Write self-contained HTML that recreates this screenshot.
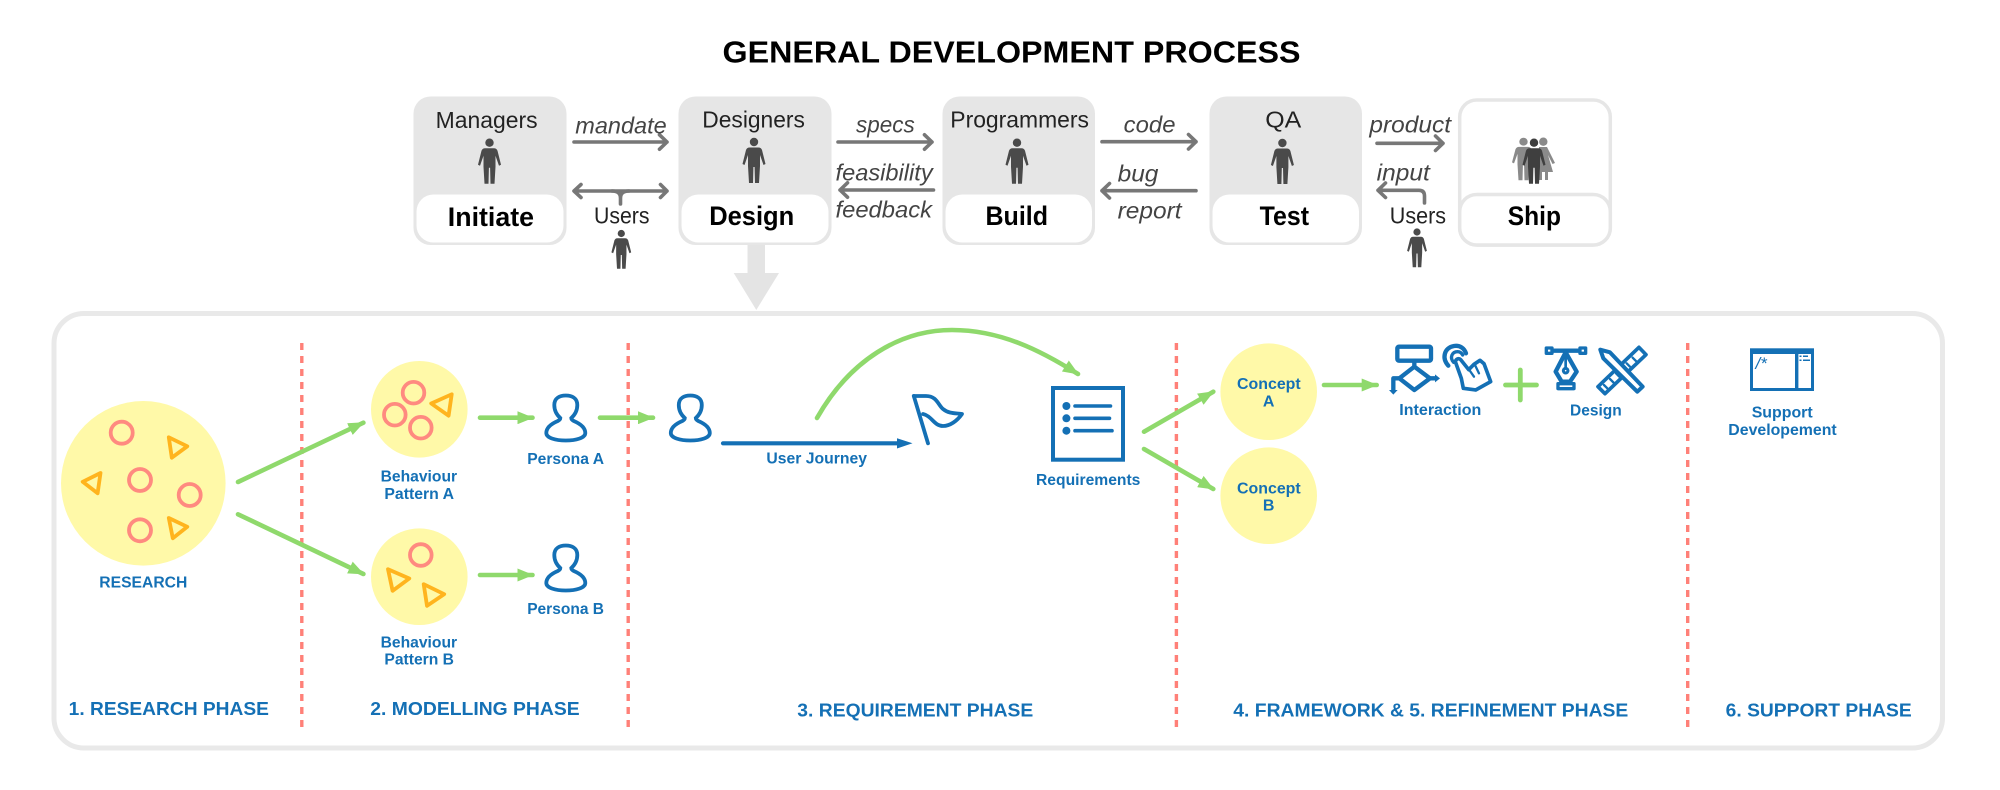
<!DOCTYPE html>
<html>
<head>
<meta charset="utf-8">
<style>
html,body{margin:0;padding:0;background:#fff;width:2000px;height:790px;overflow:hidden}
svg{display:block;filter:blur(.35px)}
text{font-family:"Liberation Sans",sans-serif}
.t{fill:#222;font-size:23px}
.i{fill:#444;font-size:23px;font-style:italic}
.b{fill:#000;font-size:27px;font-weight:bold}
.l{fill:#1470b5;font-size:16px;font-weight:bold}
.p{fill:#1470b5;font-size:18.5px;font-weight:bold}
.ga{fill:none;stroke:#777;stroke-width:3.6;stroke-linecap:round;stroke-linejoin:round}
.gr{fill:none;stroke:#8fd96c;stroke-width:4.6;stroke-linecap:round}
.dash{stroke:#ff8078;stroke-width:3.4;stroke-dasharray:7 6}
.o{fill:none;stroke:#ff8a80;stroke-width:3.8}
.y{fill:none;stroke:#ffb41e;stroke-width:3.8;stroke-linejoin:round}
.ic{fill:none;stroke:#1470b5;stroke-linejoin:round;stroke-linecap:round}
</style>
</head>
<body>
<svg width="2000" height="790" viewBox="0 0 2000 790" xmlns="http://www.w3.org/2000/svg">
<defs>
<marker id="gh" markerUnits="userSpaceOnUse" viewBox="0 0 16 13" refX="15" refY="6.5" markerWidth="16" markerHeight="13" orient="auto"><path d="M0 0L16 6.5L0 13Z" fill="#8fd96c"/></marker>
<g id="pn"><circle cx="0" cy="0" r="4.2"/><path d="M-4.5 5.5H4.5Q7 5.5 8 8L11.5 22L9.5 23L6 13V24L5 41H1L.6 25H-.6L-1 41H-5L-6 24V13L-9.5 23L-11.5 22L-8 8Q-7 5.5-4.5 5.5Z"/></g>
<path id="pa" d="M-5.5 24C-10 20-11.5 16-11.5 11C-11.5 4-6 1.5 0 1.5C6 1.5 11.5 4 11.5 11C11.5 16 10 20 5.5 24C5.5 25 6 26 8 27C15 30 19.5 34 19.5 39C19.5 44 10 46.5 0 46.5C-10 46.5-19.5 44-19.5 39C-19.5 34-15 30-8 27C-6 26-5.5 25-5.5 24Z" fill="none" stroke="#1470b5" stroke-width="3.8"/>
</defs>

<text x="722.5" y="62.5" textLength="578" lengthAdjust="spacingAndGlyphs" font-size="31" font-weight="bold" fill="#000">GENERAL DEVELOPMENT PROCESS</text>

<!-- boxes -->
<rect x="413.5" y="96.5" width="153" height="148.5" rx="17" fill="#e6e6e6"/>
<rect x="416.5" y="194.5" width="147" height="48" rx="17" fill="#fff"/>
<rect x="678.5" y="96.5" width="153" height="148.5" rx="17" fill="#e6e6e6"/>
<rect x="681.5" y="194.5" width="147" height="48" rx="17" fill="#fff"/>
<rect x="942.5" y="96.5" width="152.5" height="148.5" rx="17" fill="#e6e6e6"/>
<rect x="945.5" y="194.5" width="146.5" height="48" rx="17" fill="#fff"/>
<rect x="1209.5" y="96.5" width="152.5" height="148.5" rx="17" fill="#e6e6e6"/>
<rect x="1212.5" y="194.5" width="146.5" height="48" rx="17" fill="#fff"/>
<rect x="1459.7" y="100" width="150.6" height="145" rx="17" fill="#fff" stroke="#e6e6e6" stroke-width="3.5"/>
<rect x="1459.7" y="194.5" width="150.6" height="50.5" rx="17" fill="#fff" stroke="#e6e6e6" stroke-width="3.5"/>

<!-- big arrow -->
<path d="M747.5 245H765V273H779L756.3 310L733.7 273H747.5Z" fill="#e4e4e4"/>

<!-- box text -->
<text class="t" x="435.6" y="128" textLength="102" lengthAdjust="spacingAndGlyphs">Managers</text>
<text class="t" x="702.3" y="127.7" textLength="102.6" lengthAdjust="spacingAndGlyphs">Designers</text>
<text class="t" x="950.3" y="127.7" textLength="138.7" lengthAdjust="spacingAndGlyphs">Programmers</text>
<text class="t" x="1265.3" y="127.7" textLength="36" lengthAdjust="spacingAndGlyphs">QA</text>
<text class="b" x="447.8" y="226" textLength="86.2" lengthAdjust="spacingAndGlyphs">Initiate</text>
<text class="b" x="709.2" y="225" textLength="85" lengthAdjust="spacingAndGlyphs">Design</text>
<text class="b" x="985.5" y="225" textLength="62.5" lengthAdjust="spacingAndGlyphs">Build</text>
<text class="b" x="1259.6" y="225" textLength="49.4" lengthAdjust="spacingAndGlyphs">Test</text>
<text class="b" x="1507.8" y="225" textLength="53.2" lengthAdjust="spacingAndGlyphs">Ship</text>

<!-- people -->
<g fill="#4a4a4a">
<use href="#pn" transform="translate(489.5 142.7)"/>
<use href="#pn" transform="translate(754 142)"/>
<use href="#pn" transform="translate(1017 142.7)"/>
<use href="#pn" transform="translate(1282.4 143)"/>
<use href="#pn" transform="translate(621.3 233.5) scale(.86)"/>
<use href="#pn" transform="translate(1417 232) scale(.86)"/>
</g>
<g fill="#8a8a8a">
<use href="#pn" transform="translate(1523.5 141.7) scale(1 .94)"/>
<circle cx="1543.3" cy="141.7" r="4.2"/>
<path d="M1539 147H1547L1555 163L1552.5 164L1548 155L1553 172H1548V180H1545V172H1542V180H1539Z"/>
</g>
<g fill="#3f3f3f"><use href="#pn" transform="translate(1534 142.7)"/></g>

<!-- grey arrows -->
<g class="ga">
<path d="M574 142H667M659.5 134.8L667 142L659.5 149.2"/>
<path d="M574.5 191H667M581 184.5L574 191L581 197.5M660.5 184.5L667 191L660.5 197.5"/>
<path d="M620.5 204V198Q620.5 191 612 191M620.5 198Q620.5 191 629 191"/>
<path d="M838 142H932M924.5 134.8L932 142L924.5 149.2"/>
<path d="M933.5 190H840M847.5 182.8L840 190L847.5 197.2"/>
<path d="M1102 141.7H1196M1188.5 134.5L1196 141.7L1188.5 149"/>
<path d="M1196 190.7H1102M1109.5 183.5L1102 190.7L1109.5 198"/>
<path d="M1377 143.3H1443M1435.5 136L1443 143.3L1435.5 150.5"/>
<path d="M1378 190.3H1419Q1424.5 190.3 1424.5 196V203M1385.5 183L1378 190.3L1385.5 197.5"/>
</g>

<text class="i" x="575.3" y="133.3" textLength="91.4" lengthAdjust="spacingAndGlyphs">mandate</text>
<text class="t" x="594" y="223.3" textLength="55.5" lengthAdjust="spacingAndGlyphs">Users</text>
<text class="i" x="856" y="132.7" textLength="58.7" lengthAdjust="spacingAndGlyphs">specs</text>
<text class="i" x="835.5" y="180.7" textLength="97.2" lengthAdjust="spacingAndGlyphs">feasibility</text>
<text class="i" x="835.5" y="217.7" textLength="96.5" lengthAdjust="spacingAndGlyphs">feedback</text>
<text class="i" x="1123.7" y="132.7" textLength="51.8" lengthAdjust="spacingAndGlyphs">code</text>
<text class="i" x="1117.6" y="181.7" textLength="40.8" lengthAdjust="spacingAndGlyphs">bug</text>
<text class="i" x="1117.6" y="218.7" textLength="64" lengthAdjust="spacingAndGlyphs">report</text>
<text class="i" x="1369.4" y="132.7" textLength="81.6" lengthAdjust="spacingAndGlyphs">product</text>
<text class="i" x="1376.7" y="180.7" textLength="53.1" lengthAdjust="spacingAndGlyphs">input</text>
<text class="t" x="1389.8" y="223.3" textLength="56.2" lengthAdjust="spacingAndGlyphs">Users</text>

<!-- panel -->
<rect x="54" y="313.5" width="1888.5" height="434.5" rx="30" fill="#fff" stroke="#e9e9e9" stroke-width="5"/>

<!-- dashes -->
<line class="dash" x1="301.8" y1="343" x2="301.8" y2="731"/>
<line class="dash" x1="628.2" y1="343" x2="628.2" y2="731"/>
<line class="dash" x1="1176.4" y1="343" x2="1176.4" y2="731"/>
<line class="dash" x1="1687.7" y1="343" x2="1687.7" y2="731"/>

<!-- yellow circles -->
<g fill="#fff9a8">
<circle cx="143.3" cy="483.3" r="82.3"/>
<circle cx="419.3" cy="409.3" r="48.3"/>
<circle cx="419.3" cy="576.7" r="48.3"/>
<circle cx="1268.7" cy="391.7" r="48.3"/>
<circle cx="1268.7" cy="495.7" r="48.3"/>
</g>
<g class="o">
<circle cx="121.7" cy="432.7" r="11"/>
<circle cx="140" cy="480" r="11"/>
<circle cx="189.7" cy="495" r="11"/>
<circle cx="140" cy="530.3" r="11"/>
<circle cx="413.5" cy="392.7" r="10.8"/>
<circle cx="394.8" cy="414.7" r="10.8"/>
<circle cx="420.8" cy="427.7" r="10.8"/>
<circle cx="420.8" cy="555" r="10.8"/>
</g>
<g class="y">
<path d="M168.8 437.3L187.3 446.3L171.8 457.7Z"/>
<path d="M100.5 473L82.7 481.8L97.6 493.3Z"/>
<path d="M168.8 518L187.3 526.8L172.8 538.2Z"/>
<path d="M451.7 394.3L431.2 403.5L448.6 415.7Z"/>
<path d="M388 569.2L409.3 578.5L392.6 590.8Z"/>
<path d="M423.7 584.2L444.2 594.2L427 605.8Z"/>
</g>

<!-- green arrows -->
<g class="gr">
<path d="M238 482L363.4 422.7" marker-end="url(#gh)"/>
<path d="M238 514.3L363.4 574" marker-end="url(#gh)"/>
<path d="M480 417.7H532.5" marker-end="url(#gh)"/>
<path d="M480 575H532.5" marker-end="url(#gh)"/>
<path d="M600 417.7H653" marker-end="url(#gh)"/>
<path d="M817 418C850 360 900 330 952 330C1000 330 1040 350 1078 374" marker-end="url(#gh)"/>
<path d="M1144 431.7L1213.3 391.7" marker-end="url(#gh)"/>
<path d="M1144 449L1213.3 489" marker-end="url(#gh)"/>
<path d="M1324 385H1376.7" marker-end="url(#gh)"/>
<path d="M1505.5 385H1536.5M1520.3 370V400" stroke-width="4.8"/>
</g>

<!-- personas -->
<use href="#pa" transform="translate(565.8 394)"/>
<use href="#pa" transform="translate(565.8 544)"/>
<use href="#pa" transform="translate(690.3 394)"/>

<!-- user journey -->
<path d="M723 443.3H900" stroke="#1470b5" stroke-width="4.2" stroke-linecap="round" fill="none"/>
<path d="M897 438.3L912.5 443.3L897 448.5Z" fill="#1470b5"/>
<g class="ic" stroke-width="3.8">
<path d="M913.8 396L928 443.3"/>
<path d="M913.8 396H926C937 396 938 405 943 409C949 414 956 413 962 414C957 421 950 426 943 426C934 426 932 416 923 414"/>
</g>

<!-- requirements -->
<rect x="1053" y="388" width="70" height="71.7" fill="none" stroke="#1470b5" stroke-width="4"/>
<g fill="#1470b5">
<circle cx="1066.4" cy="406" r="4"/>
<circle cx="1066.4" cy="418.3" r="4"/>
<circle cx="1066.4" cy="430.7" r="4"/>
</g>
<g class="ic" stroke-width="3.6">
<path d="M1075 406H1110.5M1075 418.3H1109.5M1075 430.7H1112"/>
</g>

<!-- interaction + design icons -->
<g transform="translate(1380 335) scale(.3333)">
<g class="ic" stroke-width="13">
<rect x="52" y="35" width="101" height="42" rx="5"/>
<path d="M103 78V95"/>
<path d="M103 95L150 130L103 165L58 130Z"/>
<path d="M150 130H168"/>
<path d="M58 130H40V165"/>
<path d="M205 92C185 70 192 38 222 33C240 30 253 40 258 55" stroke-width="13"/>
<path d="M221 82C208 68 216 50 233 50C240 50 245 54 248 60" stroke-width="10"/>
<path d="M226 80C228 72 236 68 242 74L266 104L282 88L300 76L312 86L332 140L287 165L250 160L244 130Z" stroke-width="11"/>
<path d="M268 105L282 125M285 90L297 115" stroke-width="7"/>
<!-- pen tool -->
<path d="M518 47H598"/>
<rect x="499" y="39" width="17" height="16" stroke-width="10"/>
<rect x="600" y="39" width="17" height="16" stroke-width="10"/>
<path d="M557 52L527 110L545 140H570L590 110Z"/>
<path d="M557 52V98" stroke-width="8"/>
<circle cx="557" cy="107" r="7" stroke-width="9"/>
<rect x="534" y="146" width="48" height="15" stroke-width="10"/>
<!-- ruler + pencil -->
<path d="M654 155L777 37L798 59L675 176Z" stroke-width="11"/>
<path d="M672 150L682 160M690 132L702 144M708 115L718 125M740 85L750 95M758 68L770 80" stroke-width="7"/>
<path d="M661 44L690 52L788 155L772 170L670 70Z" fill="#fff" stroke-width="12"/>
</g>
<path d="M165 118L180 130L165 142Z" fill="#1470b5"/>
<path d="M27 165H53L40 179Z" fill="#1470b5"/>
</g>

<!-- support icon -->
<rect x="1751.5" y="351" width="61" height="38.5" fill="none" stroke="#1470b5" stroke-width="3"/>
<rect x="1750" y="348.3" width="64" height="5.7" fill="#1470b5"/>
<rect x="1795" y="350" width="3.4" height="40" fill="#1470b5"/>
<path d="M1799.5 355.5H1801.5V357H1799.5ZM1799.5 359.5H1801.5V361H1799.5ZM1803 355.5H1808V357H1803ZM1803 359.5H1810V361H1803Z" fill="#1470b5"/>
<text x="1755.5" y="369" font-size="17" font-style="italic" fill="#1470b5">/*</text>

<!-- blue labels -->
<text class="l" x="99.3" y="587.7" textLength="88" lengthAdjust="spacingAndGlyphs">RESEARCH</text>
<text class="l" x="380.6" y="481.7" textLength="76.5" lengthAdjust="spacingAndGlyphs">Behaviour</text>
<text class="l" x="384.4" y="499" textLength="69.6" lengthAdjust="spacingAndGlyphs">Pattern A</text>
<text class="l" x="380.6" y="647.3" textLength="76.5" lengthAdjust="spacingAndGlyphs">Behaviour</text>
<text class="l" x="384.4" y="664.7" textLength="69.6" lengthAdjust="spacingAndGlyphs">Pattern B</text>
<text class="l" x="527.2" y="464" textLength="76.8" lengthAdjust="spacingAndGlyphs">Persona A</text>
<text class="l" x="527.2" y="614" textLength="76.8" lengthAdjust="spacingAndGlyphs">Persona B</text>
<text class="l" x="766.4" y="463.3" textLength="100.6" lengthAdjust="spacingAndGlyphs">User Journey</text>
<text class="l" x="1036" y="485" textLength="104.4" lengthAdjust="spacingAndGlyphs">Requirements</text>
<text class="l" x="1237" y="389" textLength="63.7" lengthAdjust="spacingAndGlyphs">Concept</text>
<text class="l" x="1268.7" y="406.7" text-anchor="middle">A</text>
<text class="l" x="1237" y="493.3" textLength="63.7" lengthAdjust="spacingAndGlyphs">Concept</text>
<text class="l" x="1268.7" y="510.7" text-anchor="middle">B</text>
<text class="l" x="1399.3" y="415" textLength="82" lengthAdjust="spacingAndGlyphs">Interaction</text>
<text class="l" x="1570" y="415.7" textLength="51.7" lengthAdjust="spacingAndGlyphs">Design</text>
<text class="l" x="1751.7" y="417.3" textLength="61" lengthAdjust="spacingAndGlyphs">Support</text>
<text class="l" x="1728.3" y="435" textLength="108.4" lengthAdjust="spacingAndGlyphs">Developement</text>

<!-- phase labels -->
<text class="p" x="68.7" y="715" textLength="200.2" lengthAdjust="spacingAndGlyphs">1. RESEARCH PHASE</text>
<text class="p" x="370.3" y="715" textLength="209.3" lengthAdjust="spacingAndGlyphs">2. MODELLING PHASE</text>
<text class="p" x="797.3" y="716.7" textLength="236" lengthAdjust="spacingAndGlyphs">3. REQUIREMENT PHASE</text>
<text class="p" x="1233.3" y="716.7" textLength="395" lengthAdjust="spacingAndGlyphs">4. FRAMEWORK &amp; 5. REFINEMENT PHASE</text>
<text class="p" x="1725.7" y="716.7" textLength="186" lengthAdjust="spacingAndGlyphs">6. SUPPORT PHASE</text>
</svg>
</body>
</html>
